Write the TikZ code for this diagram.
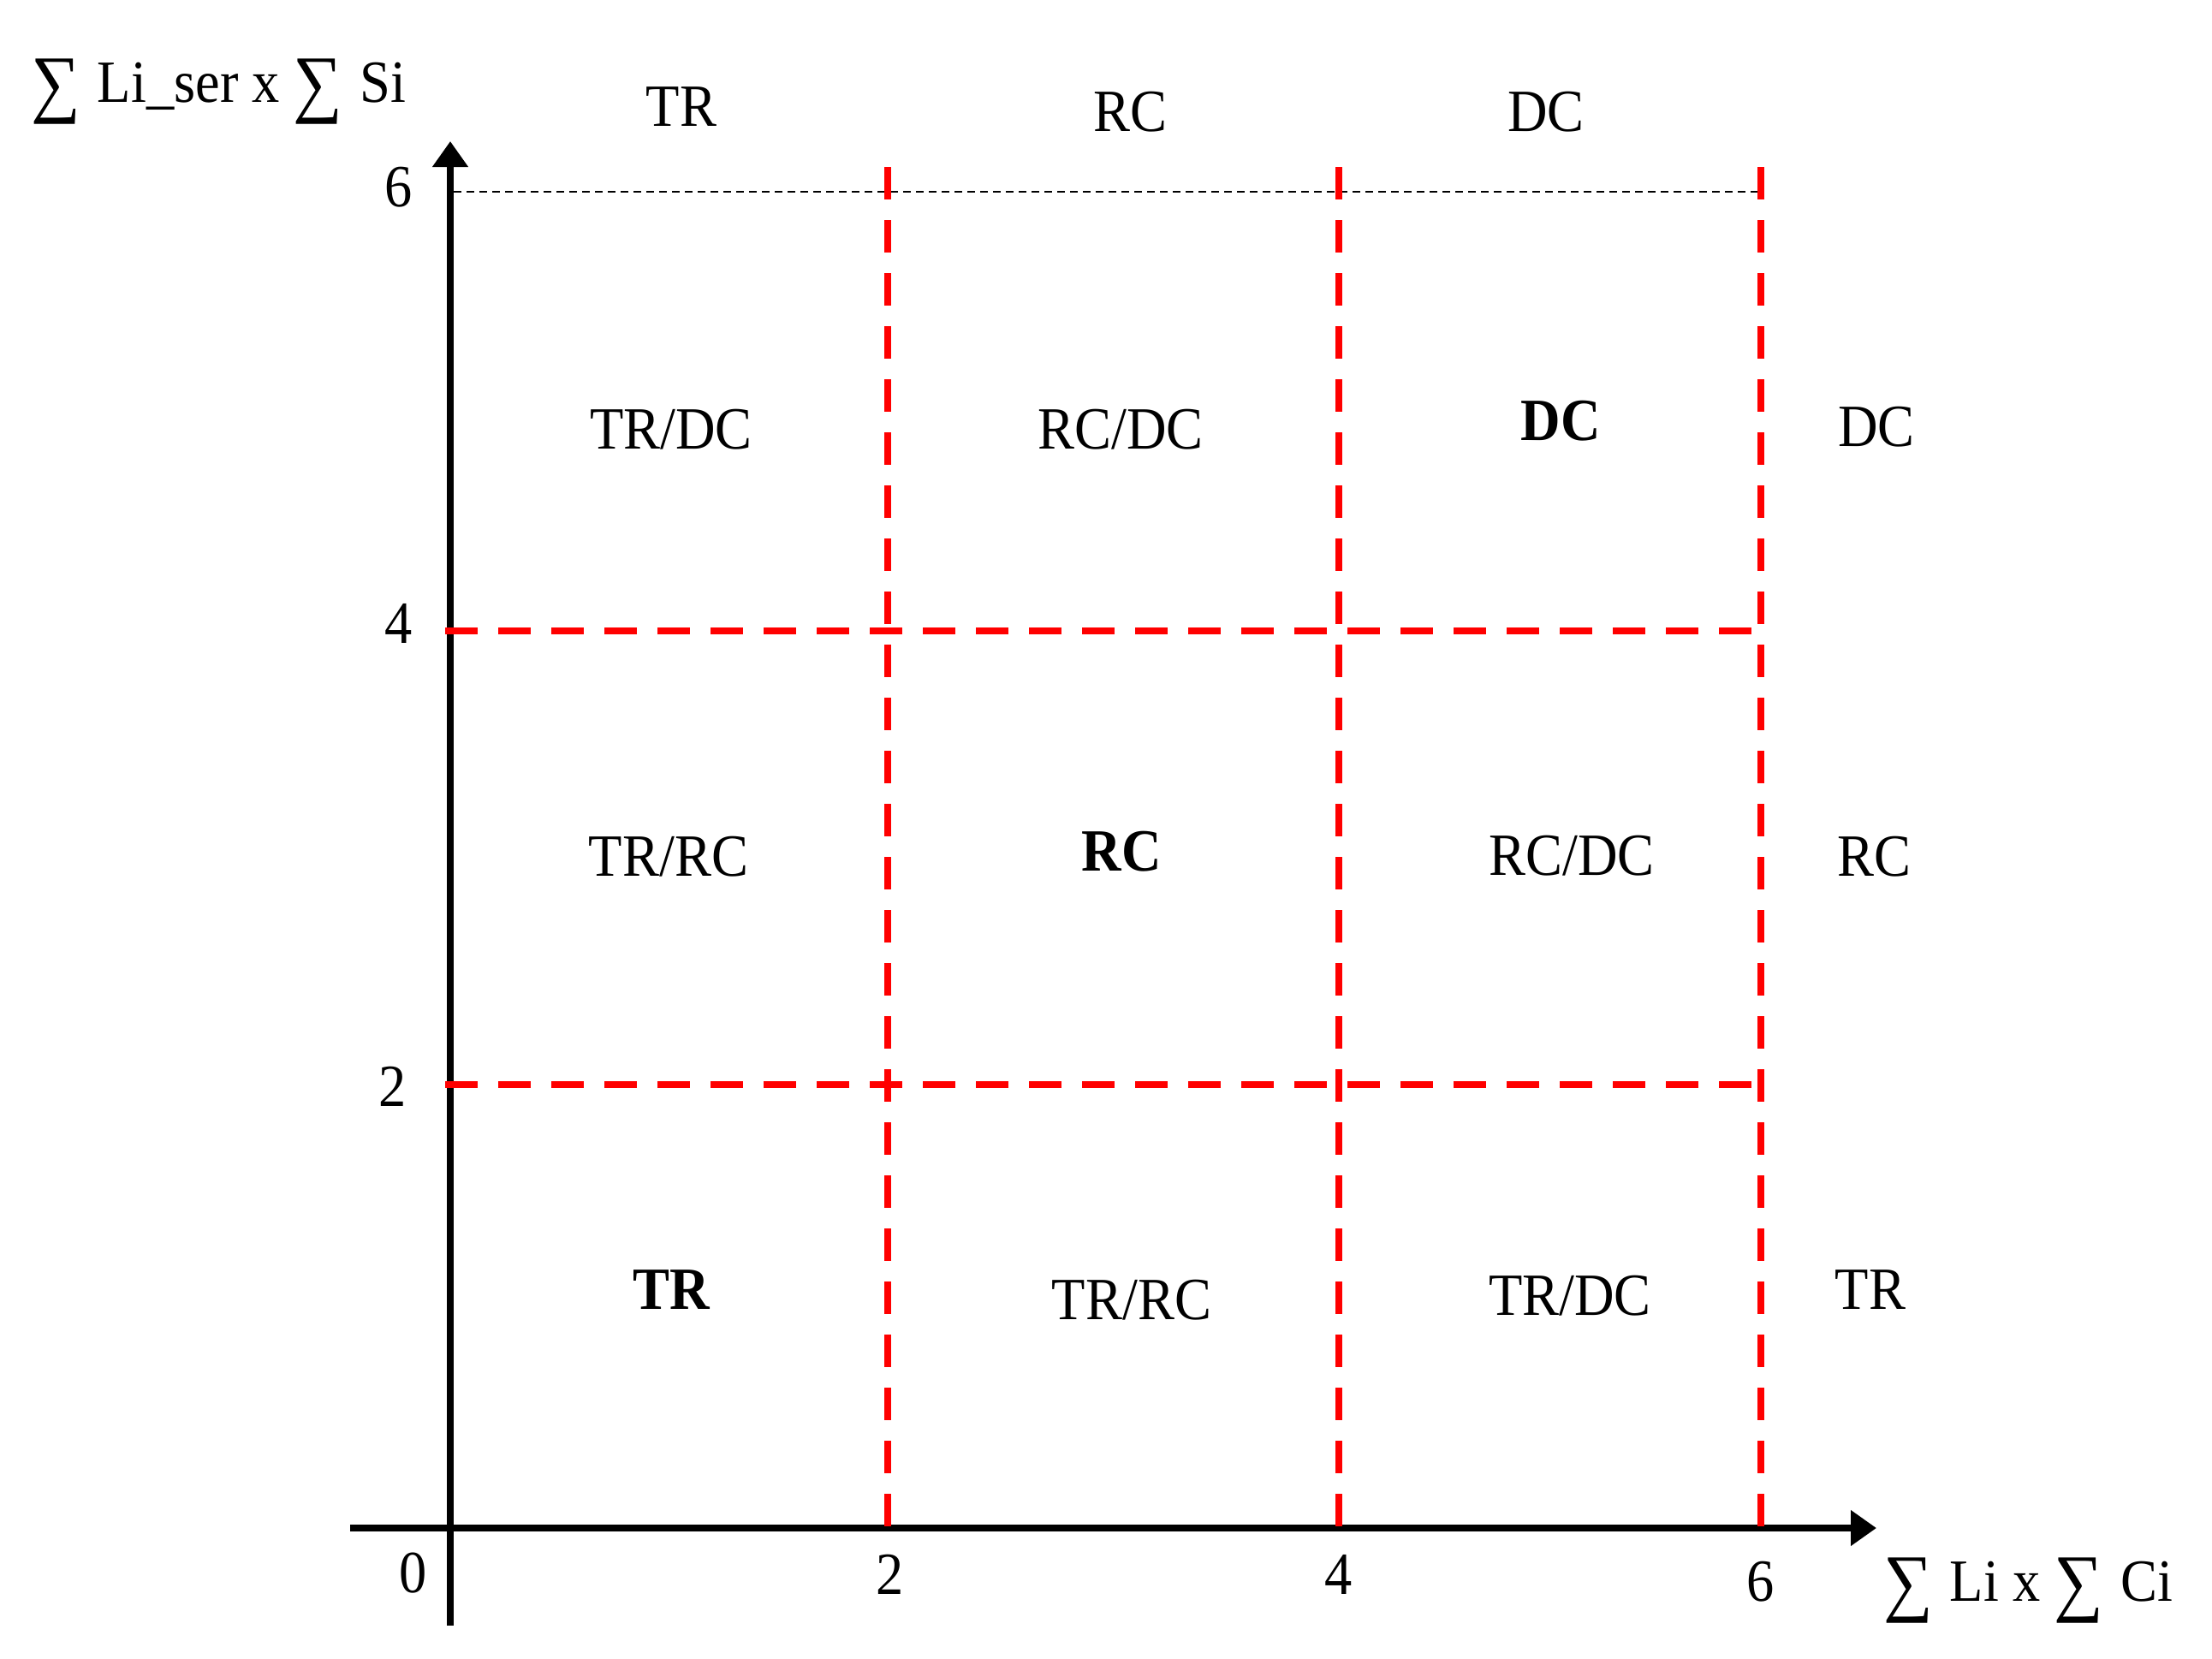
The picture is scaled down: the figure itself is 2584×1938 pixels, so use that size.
\documentclass[tikz,border=0pt]{standalone}
\usepackage{fontspec}
\setmainfont{Liberation Serif}[FakeStretch=0.92]
\usetikzlibrary{arrows.meta}
\newcommand\mybigsum{\raisebox{-7pt}{\fontsize{88}{88}\selectfont ∑}}
\begin{document}
\begin{tikzpicture}[x=1pt,y=-1pt,
  lbl/.style={inner sep=0pt, anchor=base, font=\fontsize{70}{84}\selectfont},
  blbl/.style={inner sep=0pt, anchor=base, font=\fontsize{70}{84}\selectfont\bfseries},
  axisline/.style={line width=8pt, -{Triangle[length=30pt,width=40pt]}},
  redgrid/.style={red, line width=8pt, dash pattern=on 38pt off 24pt},
  thindash/.style={black, line width=2.5pt, dash pattern=on 9pt off 6pt}]
\useasboundingbox (0,0) rectangle (2584,1938);
% coordinates
\coordinate (xs) at (409,1785);
\coordinate (xe) at (2192,1785);
\coordinate (ys) at (526,1899);
\coordinate (ye) at (526,165);
\coordinate (v2t) at (1037,195);  \coordinate (v2b) at (1037,1789);
\coordinate (v4t) at (1564,195);  \coordinate (v4b) at (1564,1789);
\coordinate (v6t) at (2057,195);  \coordinate (v6b) at (2057,1789);
\coordinate (h4l) at (520,737);   \coordinate (h4r) at (2057,737);
\coordinate (h2l) at (520,1267);  \coordinate (h2r) at (2057,1267);
\coordinate (h6l) at (530,224);   \coordinate (h6r) at (2057,224);
% thin top dashed line
\draw[thindash] (h6l) -- (h6r);
% axes
\draw[axisline] (xs) -- (xe);
\draw[axisline] (ys) -- (ye);
% red grid
\draw[redgrid] (h4l) -- (h4r);
\draw[redgrid] (h2l) -- (h2r);
\draw[redgrid] (v2t) -- (v2b);
\draw[redgrid] (v4t) -- (v4b);
\draw[redgrid] (v6t) -- (v6b);
% axis labels
\node[lbl, anchor=base west] (ylab) at (36,119) {\mybigsum\hspace{20pt}Li\_ser x \mybigsum\hspace{20pt}Si};
\node[lbl, anchor=base west] (xlab) at (2200,1870) {\mybigsum\hspace{20pt}Li x \mybigsum\hspace{20pt}Ci};
% ticks
\node[lbl] (ty6) at (466,241) {6};
\node[lbl] (ty4) at (466,751) {4};
\node[lbl] (ty2) at (459,1292) {2};
\node[lbl] (t0) at (483,1860) {0};
\node[lbl] (tx2) at (1040,1862) {2};
\node[lbl] (tx4) at (1564,1862) {4};
\node[lbl] (tx6) at (2057,1870) {6};
% top labels
\node[lbl] (topTR) at (796,147) {TR};
\node[lbl] (topRC) at (1320,153) {RC};
\node[lbl] (topDC) at (1806,153) {DC};
% row 1
\node[lbl] (c13) at (784,524) {TR/DC};
\node[lbl] (c23) at (1309,524) {RC/DC};
\node[blbl] (c33) at (1823,514) {DC};
\node[lbl] (r3) at (2192,521) {DC};
% row 2
\node[lbl] (c12) at (781,1023) {TR/RC};
\node[blbl] (c22) at (1310,1017) {RC};
\node[lbl] (c32) at (1836,1022) {RC/DC};
\node[lbl] (r2) at (2189,1023) {RC};
% row 3
\node[blbl] (c11) at (784,1529) {TR};
\node[lbl] (c21) at (1322,1541) {TR/RC};
\node[lbl] (c31) at (1834,1536) {TR/DC};
\node[lbl] (r1) at (2185,1529) {TR};
\end{tikzpicture}
\end{document}
